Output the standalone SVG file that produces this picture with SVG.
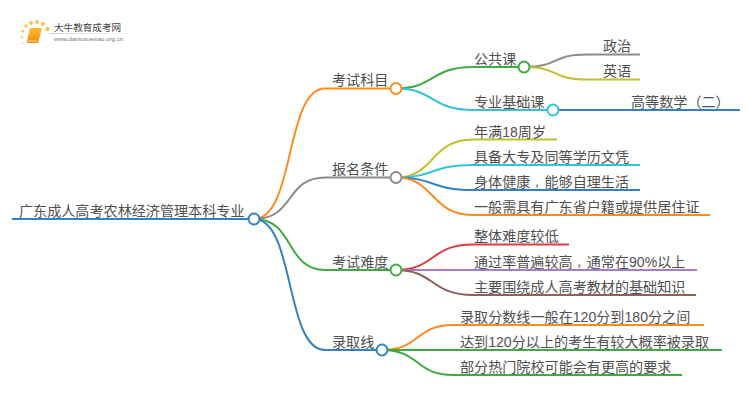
<svg xmlns="http://www.w3.org/2000/svg" width="750" height="410" viewBox="0 0 750 410">
<style>
text{font-family:"Liberation Sans","Noto Sans CJK SC",sans-serif;font-size:14.1px;fill:#505050}
.tc{font-family:"Noto Sans CJK TC",sans-serif}
.cm{font-size:10.100px}
#connectors path{fill:none;stroke-width:2}
circle{fill:#fff;stroke-width:2}
#logo circle{stroke:none}
.o{stroke:#ff8a1f}.g{stroke:#3fab3f}.b{stroke:#2f83c4}.y{stroke:#8c8c8c}.c{stroke:#2ec5d8}.l{stroke:#bfc22e}.r{stroke:#dc3d43}.p{stroke:#a77bc9}.m{stroke:#8f6157}
</style>
<defs>
<linearGradient id="bk" x1="0" y1="0" x2="0" y2="1"><stop offset="0" stop-color="#ffc02a"/><stop offset="1" stop-color="#f08a12"/></linearGradient>
<linearGradient id="ln" x1="0" y1="0" x2="1" y2="0"><stop offset="0" stop-color="#ccc"/><stop offset="1" stop-color="#fff"/></linearGradient>
</defs>
<g id="logo">
<circle cx="23" cy="43" r="1" style="fill:#fde3a8"/><circle cx="22" cy="37" r="1.300" style="fill:#fbd47a"/><circle cx="23" cy="31" r="1.500" style="fill:#fbc64a"/><circle cx="26" cy="26" r="1.700" style="fill:#fbc64a"/><circle cx="31" cy="23" r="1.900" style="fill:#fbc64a"/><circle cx="37" cy="22" r="2" style="fill:#fbc64a"/><circle cx="43" cy="24" r="2" style="fill:#fbc64a"/><circle cx="47.500" cy="29" r="2.200" style="fill:#fbc64a"/>
<path d="M30 28H42L38.500 41.500Q38 43 36 43H28Q26.500 43 27 41Z" fill="url(#bk)"/>
<path d="M28 41H37" stroke="#fff3d0" stroke-width="0.800" fill="none"/>
<rect x="50" y="33" width="84" height="1" fill="url(#ln)"/>
<text x="54" y="31" style="font-size:9.600px;fill:#444">大牛教育成考网</text>
<text x="54" y="41" style="font-size:6.100px;fill:#777">www.daniuxuexiao.org.cn</text>
</g>
<g id="connectors">
<path class="b" d="M12 219H248"/>
<path class="o" d="M254 219C295 219 285 88.500 325 88.500H390"/>
<path class="y" d="M254 219C295 219 285 177.500 325 177.500H390"/>
<path class="g" d="M254 219C295 219 285 270 325 270H390"/>
<path class="b" d="M254 219C295 219 285 350 325 350H376"/>
<path class="g" d="M396 88.500C435 88.500 430 67 473 67H518"/>
<path class="c" d="M396 88.500C435 88.500 430 110 473 110H547"/>
<path class="y" d="M524 67C560 67 550 54.500 587 54.500H640"/>
<path class="l" d="M524 67C560 67 550 79.500 587 79.500H640"/>
<path class="b" d="M559 110H740"/>
<path class="l" d="M396 177.500C435 177.500 430 139.500 473 139.500H557"/>
<path class="c" d="M396 177.500C435 177.500 430 165 473 165H640"/>
<path class="b" d="M396 177.500C435 177.500 430 190 473 190H640"/>
<path class="o" d="M396 177.500C435 177.500 430 215 473 215H710"/>
<path class="r" d="M396 270C435 270 430 244.500 473 244.500H569"/>
<path class="p" d="M396 270H697"/>
<path class="m" d="M396 270C435 270 430 295 473 295H696"/>
<path class="o" d="M382 350C420 350 415 325 453 325H704"/>
<path class="g" d="M382 350H722"/>
<path class="g" d="M382 350C420 350 415 375 453 375H682"/>
</g>
<g id="root"><text x="19" y="215.500">广东成人高考农林经济管理本科专业</text><circle class="b" cx="254" cy="219" r="5.500"/></g>
<g id="n1"><text x="332" y="84.500">考试科目</text><circle class="o" cx="396" cy="88.500" r="5.500"/></g>
<g id="n2"><text x="332" y="173.500">报名条件</text><circle class="y" cx="396" cy="177.500" r="5.500"/></g>
<g id="n3"><text x="332" y="266.500">考试难度</text><circle class="g" cx="396" cy="270" r="5.500"/></g>
<g id="n4"><text x="332" y="346.500">录取线</text><circle class="b" cx="382" cy="350" r="5.500"/></g>
<g id="n5"><text x="474" y="63.500">公共课</text><circle class="g" cx="524" cy="67" r="5.500"/></g>
<g id="n6"><text x="474" y="106.500">专业基础课</text><circle class="c" cx="553" cy="110" r="5.500"/></g>
<g id="n7"><text x="603" y="51">政治</text></g>
<g id="n8"><text x="603" y="76">英语</text></g>
<g id="n9"><text x="631" y="106.500">高等数学<tspan class="tc">（</tspan>二<tspan class="tc">）</tspan></text></g>
<g id="n10"><text x="474" y="136.500">年满18周岁</text></g>
<g id="n11"><text x="474" y="161.500">具备大专及同等学历文凭</text></g>
<g id="n12"><text x="474" y="186.500">身体健康<tspan class="cm" dx="4">，</tspan>能够自理生活</text></g>
<g id="n13"><text x="474" y="211.500">一般需具有广东省户籍或提供居住证</text></g>
<g id="n14"><text x="474" y="241">整体难度较低</text></g>
<g id="n15"><text x="474" y="266.500">通过率普遍较高<tspan class="cm" dx="4">，</tspan>通常在90%以上</text></g>
<g id="n16"><text x="474" y="291.500">主要围绕成人高考教材的基础知识</text></g>
<g id="n17"><text x="460" y="321.500">录取分数线一般在120分到180分之间</text></g>
<g id="n18"><text x="460" y="346.500">达到120分以上的考生有较大概率被录取</text></g>
<g id="n19"><text x="460" y="371.500">部分热门院校可能会有更高的要求</text></g>
</svg>
